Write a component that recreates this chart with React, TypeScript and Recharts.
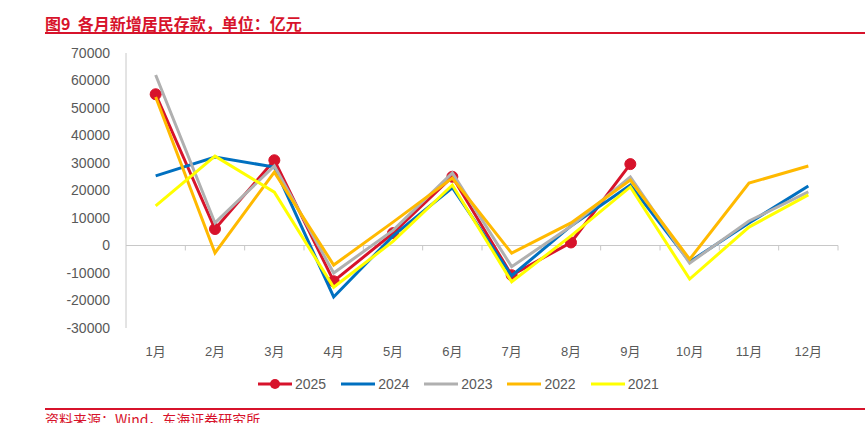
import React from "react";
import { Legend, Line, LineChart, ReferenceLine, XAxis, YAxis } from "recharts";

const MONTHS = ["1月", "2月", "3月", "4月", "5月", "6月", "7月", "8月", "9月", "10月", "11月", "12月"];
const Y_TICKS = [-30000, -20000, -10000, 0, 10000, 20000, 30000, 40000, 50000, 60000, 70000];

const V2025 = [55000, 6000, 31000, -13000, 4500, 25000, -10800, 1100, 29600, null, null, null];
const V2024 = [25300, 32200, 28500, -18700, 3500, 21000, -11000, 7100, 22000, -5900, 8200, 21600];
const V2023 = [62000, 8200, 28900, -10000, 5500, 26400, -7700, 7000, 24900, -6400, 8900, 19500];
const V2022 = [54000, -2700, 26700, -7100, 8500, 24500, -2800, 8200, 23800, -5000, 22700, 28900];
const V2021 = [14400, 32500, 19400, -15200, 1500, 22000, -13200, 3500, 21300, -12200, 6700, 18400];

const SERIES = [
  { key: "2025", values: V2025, color: "#D7132B", dot: true },
  { key: "2024", values: V2024, color: "#0070C0", dot: false },
  { key: "2023", values: V2023, color: "#B0B0B0", dot: false },
  { key: "2022", values: V2022, color: "#FFB900", dot: false },
  { key: "2021", values: V2021, color: "#FFFF00", dot: false },
];

const data = MONTHS.map((month, i) => {
  const row: Record<string, string | number | null> = { month, idx: i };
  SERIES.forEach((s) => {
    row[s.key] = s.values[i];
  });
  return row;
});

const RED = "#D7132B";
const TEXT = "#595959";
const AXIS = "#C8C8C8";
const FONT = '"Liberation Sans", Arial, "Noto Sans CJK SC", sans-serif';
const BOUNDARIES = MONTHS.map((_, i) => i + 1);

function LegendContent() {
  return (
    <div style={{ display: "flex", alignItems: "center", fontFamily: FONT, fontSize: 14, color: TEXT }}>
      {SERIES.map((s) => (
        <div key={s.key} style={{ display: "flex", alignItems: "center", marginRight: 15 }}>
          <svg width={34} height={12} style={{ marginRight: 3 }}>
            <line x1={0} y1={6} x2={34} y2={6} stroke={s.color} strokeWidth={3} />
            {s.dot && <circle cx={17} cy={6} r={5} fill={s.color} />}
          </svg>
          <span>{s.key}</span>
        </div>
      ))}
    </div>
  );
}

export default function App() {
  return (
    <div style={{ position: "absolute", left: 0, top: 0, width: 865, height: 423, overflow: "hidden", background: "#fff" }}>
      <div
        style={{
          position: "absolute",
          left: 45,
          top: 13,
          fontFamily: '"Noto Sans CJK SC", sans-serif',
          fontWeight: 700,
          fontSize: 16,
          lineHeight: "20px",
          color: RED,
          whiteSpace: "pre",
        }}
      >
        图9  各月新增居民存款，单位：亿元
      </div>
      <div style={{ position: "absolute", left: 45, top: 32, width: 820, height: 2, background: RED }} />

      <LineChart width={865} height={423} data={data} margin={{ top: 53, right: 27, left: 56, bottom: 65 }}>
        <XAxis
          dataKey="month"
          height={30}
          axisLine={false}
          tickLine={false}
          tickSize={0}
          tickMargin={19}
          interval={0}
          padding={{ left: 29.67, right: 29.67 }}
          tick={{ fontSize: 13, fill: TEXT, fontFamily: FONT }}
        />
        <XAxis xAxisId="grid" type="number" dataKey="idx" domain={[0, 12]} hide />
        <YAxis
          width={70}
          domain={[-30000, 70000]}
          ticks={Y_TICKS}
          interval={0}
          axisLine={{ stroke: AXIS }}
          tickLine={false}
          tickSize={0}
          tickMargin={16}
          tick={{ fontSize: 14, fill: TEXT, fontFamily: FONT }}
        />
        <ReferenceLine xAxisId="grid" y={0} stroke={AXIS} strokeWidth={1} />
        {BOUNDARIES.map((b) => (
          <ReferenceLine
            key={b}
            xAxisId="grid"
            segment={[
              { x: b, y: 0 },
              { x: b, y: -1800 },
            ]}
            stroke={AXIS}
          />
        ))}
        {SERIES.map((s, i) => (
          <Line
            key={s.key}
            dataKey={s.key}
            type="linear"
            stroke={s.color}
            strokeWidth={3}
            dot={s.dot ? { r: 5.5, fill: s.color, stroke: s.color, strokeWidth: 1 } : false}
            activeDot={false}
            connectNulls={false}
            isAnimationActive={false}
            {...({ zIndex: s.dot ? undefined : 1000 + i * 10 } as any)}
          />
        ))}
        <Legend
          layout="horizontal"
          verticalAlign="middle"
          align="center"
          content={() => <LegendContent />}
          wrapperStyle={{ position: "absolute", left: 258, top: 376, width: 420, height: 20 }}
        />
      </LineChart>

      <div style={{ position: "absolute", left: 45, top: 408, width: 820, height: 2, background: RED }} />
      <div
        style={{
          position: "absolute",
          left: 45,
          top: 410,
          fontFamily: '"Noto Sans CJK SC", sans-serif',
          fontSize: 14,
          lineHeight: "18px",
          color: RED,
          whiteSpace: "pre",
        }}
      >
        资料来源：Wind，东海证券研究所
      </div>
    </div>
  );
}
